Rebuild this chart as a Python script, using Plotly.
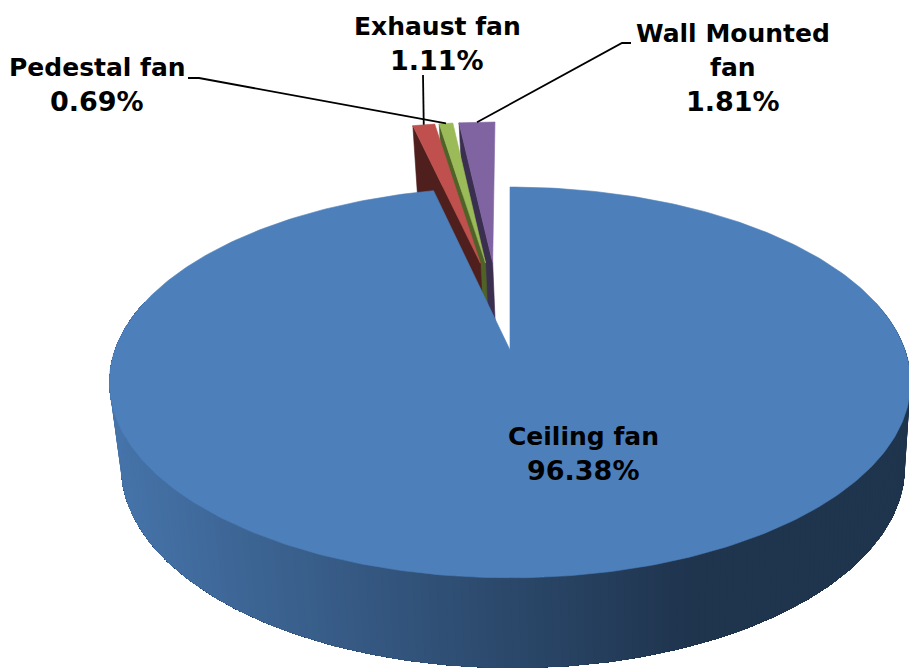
import numpy as np
import plotly.graph_objects as go

# ---- data ----
categories = [["Ceiling fan"], ["Exhaust fan"], ["Pedestal fan"], ["Wall Mounted", "fan"]]
values = [96.38, 1.11, 0.69, 1.81]
top_colors = ["#4d7fbb", "#c0504d", "#9bbb59", "#8064a2"]
wall_colors = ["#1f344d", "#4f1f1e", "#4f6228", "#3b2f50"]
label_x = [583, 437, 97, 733]
label_y = [436, 26, 67, 33]
leader_elbow = [None, (423, 75), (188, 78, 199, 78), (631, 43, 622, 43)]

# ---- perspective pie geometry ----
EXPLODE = 0.25
SLICE_DU = -0.005
LINE_STEP = 34
TOP = dict(cx=510, cy=350, a=190, c=0.166, d=395)
BOT = dict(cx=513, cy=433, a=196, c=0.166, d=386.5)

total = sum(values)
edges = np.concatenate([[0], np.cumsum(values)]) / total * 2 * np.pi
mids = (edges[:-1] + edges[1:]) / 2
main_u, main_v = EXPLODE * np.sin(mids[0]), EXPLODE * np.cos(mids[0])


def proj(u, v, level):
    u = np.asarray(u, float) - main_u
    v = np.asarray(v, float) - main_v
    w = 1 + level["c"] * v
    return level["cx"] + level["d"] * u / w, level["cy"] - level["a"] * v / w


def centre(i):
    du = SLICE_DU if i > 0 else 0
    return EXPLODE * np.sin(mids[i]) + du, EXPLODE * np.cos(mids[i])


def rim(i, th, level):
    uc, vc = centre(i)
    return proj(uc + np.sin(th), vc + np.cos(th), level)


def poly(x, y, color, lw=0.6):
    return go.Scatter(x=list(x), y=list(y), mode="lines", fill="toself", fillcolor=color,
                      line=dict(color=color, width=lw), hoverinfo="skip", showlegend=False)


def shade(x):
    t = min(max((x - 120) / 580, 0), 1)
    a, b = (70, 116, 170), (31, 52, 77)
    return "rgb(%d,%d,%d)" % tuple(a[k] + (b[k] - a[k]) * t for k in range(3))


fig = go.Figure()

# small slices, farthest right first
for i in [3, 2, 1]:
    th = np.linspace(edges[i], edges[i + 1], 12)
    ax, ay = proj(*centre(i), TOP)
    bx, by = proj(*centre(i), BOT)
    tx, ty = rim(i, edges[i], TOP)
    dx, dy = rim(i, edges[i], BOT)
    fig.add_trace(poly([ax, tx, dx, bx, ax], [ay, ty, dy, by, ay], wall_colors[i]))
    rx, ry = rim(i, th, TOP)
    fig.add_trace(poly(np.r_[ax, rx, ax], np.r_[ay, ry, ay], top_colors[i]))

# outer wall of the large slice: painted right to left, each band running on to the left end
steps = np.linspace(np.radians(75), np.radians(285), 211)
for t0 in steps[:-1]:
    th = steps[steps >= t0]
    x0, y0 = rim(0, th, TOP)
    x1, y1 = rim(0, th[::-1], BOT)
    xs = np.r_[x0, x1, x0[0]]
    ys = np.r_[y0, y1, y0[0]]
    fig.add_trace(poly(xs, ys, shade((x0[0] + x1[-1]) / 2), lw=0))

# top of the large slice
th = np.linspace(edges[0], edges[1], 400)
rx, ry = rim(0, th, TOP)
ax, ay = proj(*centre(0), TOP)
fig.add_trace(poly(np.r_[ax, rx, ax], np.r_[ay, ry, ay], top_colors[0]))

# leader lines, ending on the middle of each small slice's rim
for i in [1, 2, 3]:
    ex, ey = rim(i, mids[i], TOP)
    e = leader_elbow[i]
    xs = list(e[0::2]) + [float(ex)]
    ys = list(e[1::2]) + [float(ey)]
    fig.add_trace(go.Scatter(x=xs, y=ys, mode="lines", line=dict(color="#000000", width=1.8),
                             hoverinfo="skip", showlegend=False))

for name, val, lx, ly in zip(categories, values, label_x, label_y):
    lines = name + [f"{val:.2f}%"]
    for n, line in enumerate(lines):
        size = 27 if n == len(lines) - 1 else 25
        fig.add_annotation(x=lx, y=ly + n * LINE_STEP, xref="x", yref="y", showarrow=False,
                           text=f"<b>{line}</b>",
                           font=dict(family="DejaVu Sans", size=size, color="#000000"))

fig.update_layout(
    width=909, height=669, margin=dict(l=0, r=0, t=0, b=0),
    paper_bgcolor="white", plot_bgcolor="white", showlegend=False,
    xaxis=dict(range=[0, 909], visible=False, fixedrange=True),
    yaxis=dict(range=[669, 0], visible=False, fixedrange=True),
)
fig.write_html("out.html", config={"displayModeBar": False},
               post_script="document.body.style.margin='0';document.body.style.overflow='hidden';")
